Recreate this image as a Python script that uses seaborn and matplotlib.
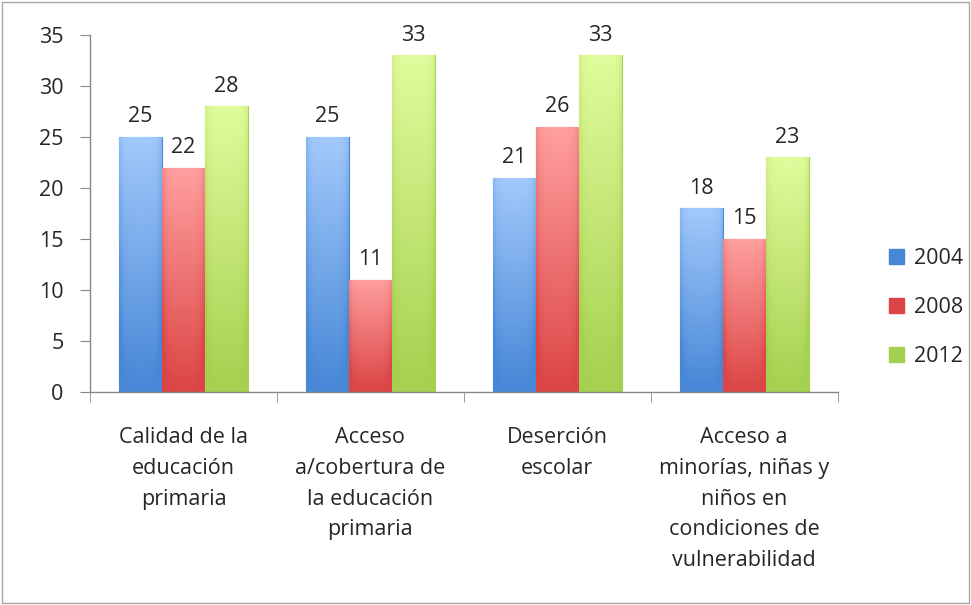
import matplotlib
matplotlib.use("Agg")
import matplotlib.pyplot as plt
import matplotlib.colors as mcolors
from matplotlib.patches import Patch
import numpy as np
import pandas as pd
import seaborn as sns

categorias = ["Calidad de la\neducación\nprimaria",
              "Acceso\na/cobertura de\nla educación\nprimaria",
              "Deserción\nescolar",
              "Acceso a\nminorías, niñas y\nniños en\ncondiciones de\nvulnerabilidad"]
anos = ["2004", "2008", "2012"]
v2004 = [25, 25, 21, 18]
v2008 = [22, 11, 26, 15]
v2012 = [28, 33, 33, 23]

# cores (topo claro, base escura)
cores = {"2004": ("#a2c9fb", "#4787d6"),
         "2008": ("#ff9f9f", "#dc4545"),
         "2012": ("#e0fc9c", "#a6d04f")}

df = pd.DataFrame({"cat": categorias * 3,
                   "ano": [a for a in anos for _ in categorias],
                   "valor": v2004 + v2008 + v2012})

sns.set_style("white")
plt.rcParams['font.family'] = ['Open Sans', 'DejaVu Sans']
fs = 15.5

fig = plt.figure(figsize=(9.71, 6.05), dpi=100)
ax = fig.add_axes([0.0927, 0.352, 0.770, 0.590])

paleta = {a: cores[a][1] for a in anos}
sns.barplot(data=df, x="cat", y="valor", hue="ano", palette=paleta,
            width=0.69, gap=0, ax=ax, legend=False, saturation=1)

# gradiente nas barras
for cont, a in zip(ax.containers, anos):
    cmap = mcolors.LinearSegmentedColormap.from_list("g", [cores[a][1], cores[a][0]])
    for p in cont:
        x0, y0 = p.get_x(), p.get_y()
        w, h = p.get_width(), p.get_height()
        vert = np.linspace(0, 1, 100).reshape(-1, 1)
        horiz = np.linspace(-1, 1, 30).reshape(1, -1)
        grad = vert - 0.25 * horiz ** 6
        im = ax.imshow(grad, cmap=cmap, origin="lower", aspect="auto",
                       extent=[x0, x0 + w, y0, y0 + h], zorder=2, vmin=0, vmax=1)
        im.set_clip_path(p)
        p.set_edgecolor(cores[a][1])
        p.set_linewidth(0.8)
    ax.bar_label(cont, padding=7, fontsize=fs)

ax.set_xlim(-0.5, 3.5)
ax.set_ylim(0, 35)
ax.set_yticks(range(0, 36, 5))
ax.set_xlabel("")
ax.set_ylabel("")
ax.tick_params(axis="y", labelsize=fs, length=7, left=True, color="#888888", pad=12)
ax.tick_params(axis="x", labelsize=fs, bottom=False, pad=22)
for lab in ax.get_xticklabels():
    lab.set_linespacing(1.6)
ax.set_xticks([-0.5, 0.5, 1.5, 2.5, 3.5], minor=True)
ax.tick_params(axis="x", which="minor", bottom=True, length=7, color="#888888")
for s in ["top", "right"]:
    ax.spines[s].set_visible(False)
for s in ["left", "bottom"]:
    ax.spines[s].set_color("#888888")
    ax.spines[s].set_linewidth(1)

handles = [Patch(facecolor=cores[a][1], edgecolor=cores[a][1]) for a in anos]
fig.legend(handles, anos, loc="center left", bbox_to_anchor=(0.896, 0.491),
           frameon=False, fontsize=fs, handlelength=0.7, handleheight=0.7,
           labelspacing=1.3, handletextpad=0.45)

fig.add_artist(plt.Rectangle((0.002, 0.003), 0.996, 0.994, transform=fig.transFigure,
                             fill=False, edgecolor="#a6a6a6", linewidth=1))

plt.savefig("out.png", dpi=100)
